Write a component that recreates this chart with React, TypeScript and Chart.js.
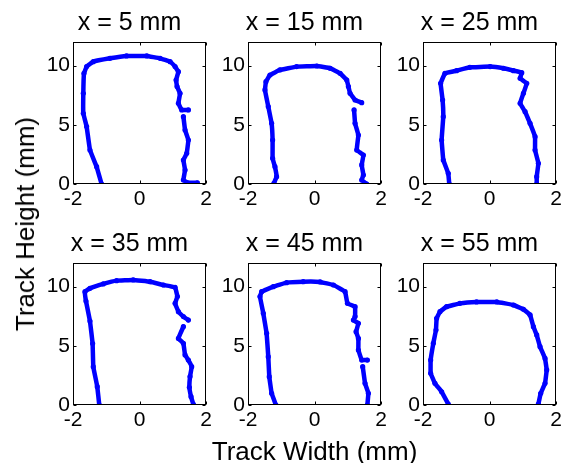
import React, { useEffect, useRef } from "react";
import { Chart, registerables } from "chart.js";

Chart.register(...registerables);

// ---------- data ----------
const titles = ["x = 5 mm", "x = 15 mm", "x = 25 mm", "x = 35 mm", "x = 45 mm", "x = 55 mm"];
const xTicks = [-2, 0, 2];
const yTicks = [0, 5, 10];
const xRange = [-2, 2];
const yRange = [0, 12];
const xAxisLabel = "Track Width (mm)";
const yAxisLabel = "Track Height (mm)";

const p5x = [-1.14, -1.29, -1.49, -1.59, -1.69, -1.69, -1.67, -1.59, -1.39, -0.89, -0.39, 0.22, 0.62, 0.92, 1.07, 1.17, 1.10, 1.13, 1.22, 1.17, 1.27, 1.47, null, 1.32, 1.37, 1.47, 1.42, 1.32, 1.37, 1.32, 1.45, 1.74];
const p5y = [0, 1.46, 2.87, 4.85, 5.97, 7.66, 9.35, 9.92, 10.34, 10.62, 10.82, 10.82, 10.62, 10.34, 9.92, 9.49, 8.79, 8.23, 7.66, 6.82, 6.26, 6.26, null, 5.69, 4.56, 3.72, 2.59, 2.03, 1.18, 0.34, 0.1, 0.1];

const p15x = [-1.22, -1.14, -1.19, -1.26, -1.26, -1.29, -1.39, -1.49, -1.46, -1.34, -1.04, -0.54, 0.07, 0.47, 0.77, 0.97, 1.02, 1.07, 1.22, 1.42, null, 1.19, 1.22, 1.32, 1.27, 1.47, 1.42, 1.47, 1.42, 1.57];
const p15y = [0.06, 0.62, 1.46, 2.17, 3.72, 5.13, 6.54, 7.95, 8.65, 9.21, 9.64, 9.92, 9.97, 9.78, 9.35, 8.79, 8.23, 7.66, 7.10, 6.87, null, 6.26, 5.13, 4.14, 2.87, 2.45, 1.61, 0.76, 0.34, 0];

const p25x = [-1.21, -1.24, -1.39, -1.44, -1.39, -1.41, -1.47, -1.34, -0.99, -0.59, 0.02, 0.42, 0.72, 0.97, 0.92, 1.12, 1.02, 0.92, 1.07, 1.22, 1.37, 1.37, 1.47, 1.42, 1.42];
const p25y = [0, 0.9, 2.03, 3.72, 5.69, 7.10, 8.51, 9.35, 9.58, 9.86, 9.92, 9.78, 9.58, 9.41, 8.93, 8.51, 7.66, 6.82, 6.11, 5.13, 4.00, 2.87, 1.75, 0.62, 0];

const p35x = [-1.21, -1.27, -1.39, -1.41, -1.49, -1.61, -1.64, -1.49, -1.09, -0.69, -0.19, 0.32, 0.72, 1.07, 1.14, 1.07, 1.17, 1.32, 1.47, null, 1.32, 1.17, 1.32, 1.37, 1.47, 1.57, 1.52, 1.50, 1.55, 1.62];
const p35y = [0, 1.55, 3.24, 5.19, 7.10, 8.79, 9.58, 9.86, 10.23, 10.51, 10.57, 10.42, 10.14, 9.95, 9.16, 8.59, 7.89, 7.47, 7.18, null, 6.62, 5.63, 5.21, 4.23, 3.80, 3.24, 2.4, 1.5, 0.7, 0.05];

const p45x = [-1.16, -1.29, -1.36, -1.39, -1.44, -1.54, -1.64, -1.59, -1.24, -0.84, -0.34, 0.17, 0.57, 0.92, 0.99, 1.22, 1.22, 1.17, 1.32, 1.25, 1.32, 1.32, 1.42, 1.59, null, 1.45, 1.52, 1.62, 1.59];
const p45y = [0, 0.99, 2.39, 4.08, 6.06, 7.75, 9.16, 9.58, 10.0, 10.34, 10.42, 10.40, 10.14, 9.58, 8.59, 8.31, 7.47, 7.18, 6.9, 6.20, 5.63, 4.65, 3.80, 3.80, null, 3.24, 1.83, 0.99, 0];

const p55x = [-1.24, -1.44, -1.64, -1.77, -1.77, -1.69, -1.61, -1.59, -1.49, -1.29, -0.89, -0.39, 0.22, 0.72, 1.02, 1.22, 1.32, 1.42, 1.52, 1.67, 1.72, 1.67, 1.54, 1.47];
const p55y = [0.08, 1.12, 1.83, 2.68, 3.80, 5.21, 6.34, 7.33, 7.89, 8.31, 8.59, 8.71, 8.71, 8.45, 8.09, 7.61, 6.62, 5.92, 4.93, 3.94, 2.96, 1.83, 0.99, 0.08];

const seriesX = [p5x, p15x, p25x, p35x, p45x, p55x];
const seriesY = [p5y, p15y, p25y, p35y, p45y, p55y];

// ---------- layout ----------
const FONT = '"Liberation Sans", Arial, Helvetica, sans-serif';
const BOX_LEFTS = [73, 248, 423];
const BOX_TOPS = [42, 263];
const BOX_W = 133;
const BOX_H = 142;
const PAD_L = 50;
const PAD_T = 42;
const PAD_R = 12;
const PAD_B = 32;
const TITLE_SHIFT = -10;

const boxPlugin = {
  id: "boxFrame",
  afterDraw(chart: any, _args: any, opts: any) {
    const { ctx, chartArea: a, scales } = chart;
    ctx.save();
    ctx.strokeStyle = "#000";
    ctx.lineWidth = 1;
    const L = Math.round(a.left) + 0.5;
    const R = Math.round(a.right) - 0.5;
    const T = Math.round(a.top) + 0.5;
    const B = Math.round(a.bottom) - 0.5;
    ctx.strokeRect(L, T, R - L, B - T);
    ctx.beginPath();
    const tl = 3;
    xTicks.forEach((v) => {
      const px = Math.round(scales.x.getPixelForValue(v)) + 0.5;
      ctx.moveTo(px, B);
      ctx.lineTo(px, B - tl);
      ctx.moveTo(px, T);
      ctx.lineTo(px, T + tl);
    });
    yTicks.forEach((v) => {
      const py = Math.round(scales.y.getPixelForValue(v)) + 0.5;
      ctx.moveTo(L, py);
      ctx.lineTo(L + tl, py);
      ctx.moveTo(R, py);
      ctx.lineTo(R - tl, py);
    });
    ctx.stroke();
    ctx.fillStyle = "#000";
    ctx.font = `25px ${FONT}`;
    ctx.textAlign = "center";
    ctx.textBaseline = "alphabetic";
    ctx.fillText(opts.text, (a.left + a.right) / 2 + TITLE_SHIFT, a.top - 12.5);
    ctx.restore();
  },
};

function Panel({ idx }: { idx: number }) {
  const ref = useRef<HTMLCanvasElement | null>(null);
  useEffect(() => {
    if (!ref.current) return;
    const xs = seriesX[idx];
    const ys = seriesY[idx];
    const data = xs.map((x, i) => ({ x: x as any, y: ys[i] as any }));
    const tickFont = { family: FONT, size: 21 };
    const chart = new Chart(ref.current, {
      type: "scatter",
      data: {
        datasets: [
          {
            data,
            showLine: true,
            spanGaps: false,
            borderColor: "#0000ff",
            backgroundColor: "#0000ff",
            borderWidth: 4.5,
            pointRadius: 2.6,
            pointBorderWidth: 0,
            borderJoinStyle: "round",
            borderCapStyle: "round",
            tension: 0.05,
          } as any,
        ],
      },
      options: {
        animation: false,
        responsive: true,
        maintainAspectRatio: false,
        events: [],
        layout: { padding: { top: PAD_T, right: PAD_R, left: 0, bottom: 0 } },
        plugins: {
          legend: { display: false },
          tooltip: { enabled: false },
          boxFrame: { text: titles[idx] },
        } as any,
        scales: {
          x: {
            type: "linear",
            min: xRange[0],
            max: xRange[1],
            afterBuildTicks: (s: any) => {
              s.ticks = xTicks.map((v) => ({ value: v }));
            },
            afterFit: (s: any) => {
              s.height = PAD_B;
            },
            grid: { display: false, drawTicks: false },
            border: { display: false },
            ticks: {
              font: tickFont,
              color: "#000",
              padding: 3,
              maxRotation: 0,
              autoSkip: false,
              callback: (v: any) => String(v),
            },
          },
          y: {
            type: "linear",
            min: yRange[0],
            max: yRange[1],
            afterBuildTicks: (s: any) => {
              s.ticks = yTicks.map((v) => ({ value: v }));
            },
            afterFit: (s: any) => {
              s.width = PAD_L;
            },
            grid: { display: false, drawTicks: false },
            border: { display: false },
            ticks: {
              font: tickFont,
              color: "#000",
              padding: 3,
              autoSkip: false,
              callback: (v: any) => String(v),
            },
          },
        },
      },
      plugins: [boxPlugin as any],
    });
    return () => chart.destroy();
  }, [idx]);

  const col = idx % 3;
  const row = Math.floor(idx / 3);
  return (
    <div
      style={{
        position: "absolute",
        left: BOX_LEFTS[col] - PAD_L,
        top: BOX_TOPS[row] - PAD_T,
        width: PAD_L + BOX_W + PAD_R,
        height: PAD_T + BOX_H + PAD_B,
      }}
    >
      <canvas ref={ref} />
    </div>
  );
}

export default function App() {
  return (
    <div
      style={{
        position: "absolute",
        left: 0,
        top: 0,
        width: 561,
        height: 463,
        overflow: "hidden",
        background: "#fff",
        fontFamily: FONT,
      }}
    >
      {titles.map((_, i) => (
        <Panel key={i} idx={i} />
      ))}
      <div
        style={{
          position: "absolute",
          left: 314.5,
          top: 438,
          transform: "translateX(-50%)",
          fontSize: 26,
          lineHeight: "26px",
          whiteSpace: "nowrap",
          color: "#000",
        }}
      >
        {xAxisLabel}
      </div>
      <div
        style={{
          position: "absolute",
          left: 25,
          top: 223.5,
          transform: "translate(-50%, -50%) rotate(-90deg)",
          fontSize: 26,
          lineHeight: "26px",
          whiteSpace: "nowrap",
          color: "#000",
        }}
      >
        {yAxisLabel}
      </div>
    </div>
  );
}
